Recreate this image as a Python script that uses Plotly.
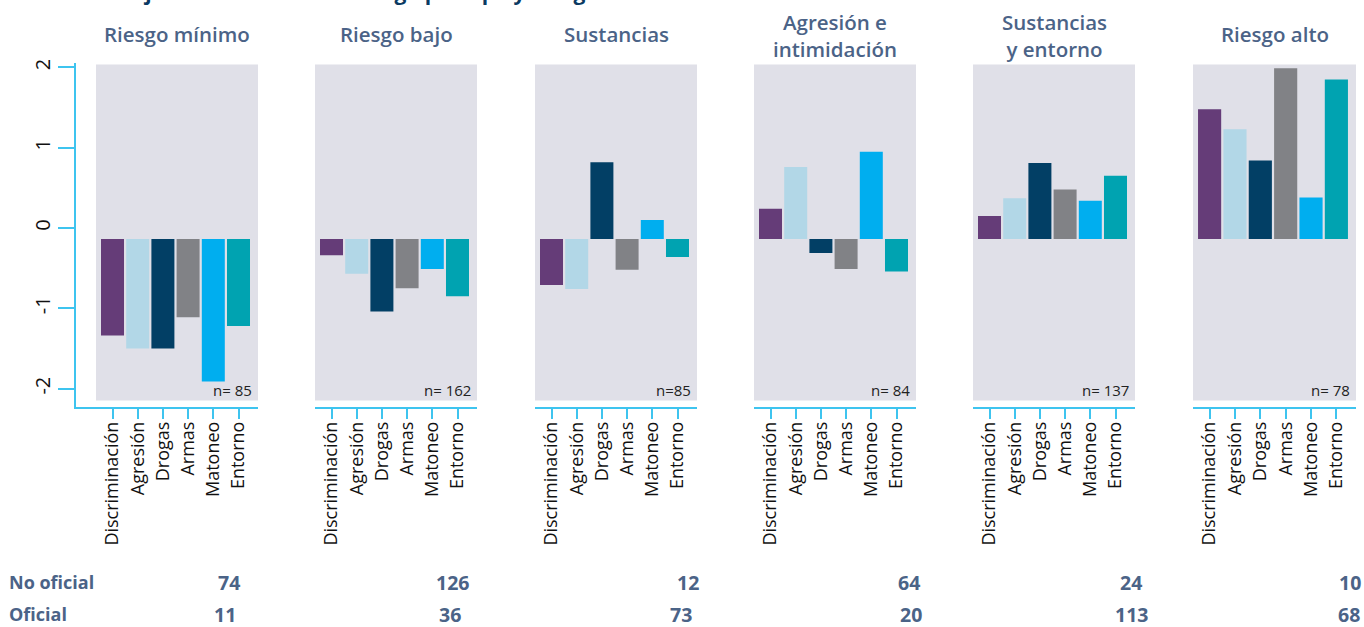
import plotly.graph_objects as go

W, H = 1364, 627

# ---------------- data ----------------
categories = ["Discriminación", "Agresión", "Drogas", "Armas", "Matoneo", "Entorno"]
panel_titles = ["Riesgo mínimo", "Riesgo bajo", "Sustancias",
                "Agresión e<br>intimidación", "Sustancias<br>y entorno", "Riesgo alto"]
n_labels = ["n= 85", "n= 162", "n=85", "n= 84", "n= 137", "n= 78"]

riesgo_minimo = [-1.34, -1.50, -1.50, -1.11, -1.91, -1.22]
riesgo_bajo = [-0.34, -0.57, -1.04, -0.75, -0.51, -0.85]
sustancias = [-0.71, -0.76, 0.82, -0.52, 0.10, -0.36]
agresion_intimidacion = [0.24, 0.76, -0.31, -0.51, 0.95, -0.54]
sustancias_entorno = [0.15, 0.37, 0.81, 0.48, 0.34, 0.65]
riesgo_alto = [1.48, 1.23, 0.84, 1.99, 0.38, 1.85]
series = [riesgo_minimo, riesgo_bajo, sustancias, agresion_intimidacion,
          sustancias_entorno, riesgo_alto]
bar_base = -0.137

row_labels = ["No oficial", "Oficial"]
no_oficial = [74, 126, 12, 64, 24, 10]
oficial = [11, 36, 73, 20, 113, 68]

y_ticks = [-2, -1, 0, 1, 2]
chart_title = "Gráfico 4. Puntaje estandarizado de riesgo por tipo y colegio"

# ---------------- style ----------------
colors = ["#653C78", "#B2D7E7", "#023F65", "#818286", "#00AEEF", "#00A3B1"]
axis_col = "#3EC4EF"
bg_col = "#E0E0E8"
title_col = "#4B6387"
FONT = "Open Sans"

panel_px = [(96, 258), (315, 477), (535, 697), (754, 916), (973, 1135), (1193, 1356)]
x_left, x_right = -0.655, 5.774
px_per_unit = (258 - 96) / (x_right - x_left)
y_range = [-2.234, 2.06]
y_dom = [1 - 406 / H, 1 - 59 / H]
bg_y0 = (406 - 399) / (406 - 59)
bg_y1 = (406 - 61) / (406 - 59)

fig = go.Figure()
shapes = []
annotations = []

for i, (vals, title) in enumerate(zip(series, panel_titles)):
    k = "" if i == 0 else str(i + 1)
    fig.add_trace(go.Bar(
        x=categories, y=[v - bar_base for v in vals], base=bar_base,
        marker=dict(color=colors, line=dict(width=0)),
        xaxis="x" + k, yaxis="y" + k, showlegend=False,
    ))
    p0, p1 = panel_px[i]
    left = x_left
    d0 = p0
    if i == 0:
        d0 = 76
        left = x_left - (p0 - d0) / px_per_unit
    fig.layout["xaxis" + k] = dict(
        domain=[d0 / W, p1 / W], range=[left, x_right], anchor="y" + k,
        showline=True, linecolor=axis_col, linewidth=2,
        ticks="outside", ticklen=10, tickwidth=2, tickcolor=axis_col,
        tickangle=-90, tickfont=dict(family=FONT, size=18, color="#111111"),
        ticklabelstandoff=-5,
        showgrid=False, zeroline=False, fixedrange=True,
    )
    fig.layout["yaxis" + k] = dict(
        domain=y_dom, range=y_range, anchor="x" + k,
        showgrid=False, zeroline=False, fixedrange=True,
        visible=(i == 0),
        showline=True, linecolor=axis_col, linewidth=2,
        ticks="outside", ticklen=16, tickwidth=2, tickcolor=axis_col,
        tickvals=y_ticks, ticktext=[str(t) for t in y_ticks],
        tickangle=-90, tickfont=dict(family=FONT, size=20, color="#111111"),
    )
    shapes.append(dict(type="rect", xref="x" + k, yref="y" + k + " domain",
                       x0=x_left, x1=x_right, y0=bg_y0, y1=bg_y1,
                       fillcolor=bg_col, line=dict(width=0), layer="below"))
    cx = (p0 + p1) / 2 / W
    ty = 31.5 if "<br>" in title else 30
    annotations.append(dict(text=title, x=cx, y=1 - ty / H, xref="paper", yref="paper",
                            xanchor="center", yanchor="middle", showarrow=False,
                            font=dict(family=FONT, size=20.5, color=title_col, weight=600)))
    annotations.append(dict(text=n_labels[i], x=x_right - 4 / px_per_unit, y=1 - 388 / H,
                            xref="x" + k, yref="paper", xanchor="right", yanchor="middle",
                            showarrow=False,
                            font=dict(family=FONT, size=15, color="#222222")))

# partially visible chart title at the very top (cut by the page edge, as in the source)
annotations.append(dict(text=chart_title, x=607 / W, y=1 - 4 / H, xref="paper", yref="paper",
                        xanchor="right", yanchor="bottom", showarrow=False,
                        font=dict(family=FONT, size=21, color="#0B3A62", weight=700)))

# bottom table
num_x1 = [229, 452, 688, 909, 1131, 1350]
num_x2 = [225, 450, 681, 911, 1131, 1349]
row_y = [582, 614]
for lbl, yy in zip(row_labels, row_y):
    annotations.append(dict(text=lbl, x=7 / W, y=1 - yy / H, xref="paper", yref="paper",
                            xanchor="left", yanchor="middle", showarrow=False,
                            font=dict(family=FONT, size=18, color=title_col, weight=700)))
for vals, xs, yy in [(no_oficial, num_x1, row_y[0]), (oficial, num_x2, row_y[1])]:
    for v, xx in zip(vals, xs):
        annotations.append(dict(text=str(v), x=xx / W, y=1 - yy / H, xref="paper",
                                yref="paper", xanchor="center", yanchor="middle",
                                showarrow=False,
                                font=dict(family=FONT, size=19.5, color=title_col, weight=700)))

fig.update_layout(
    width=W, height=H, margin=dict(l=0, r=0, t=0, b=0),
    paper_bgcolor="white", plot_bgcolor="rgba(0,0,0,0)",
    bargap=0.087, shapes=shapes, annotations=annotations,
    font=dict(family=FONT),
)

fig.write_html("out.html",
               config={"displayModeBar": False},
               post_script="document.body.style.margin='0';"
                           "document.body.style.overflow='hidden';")
